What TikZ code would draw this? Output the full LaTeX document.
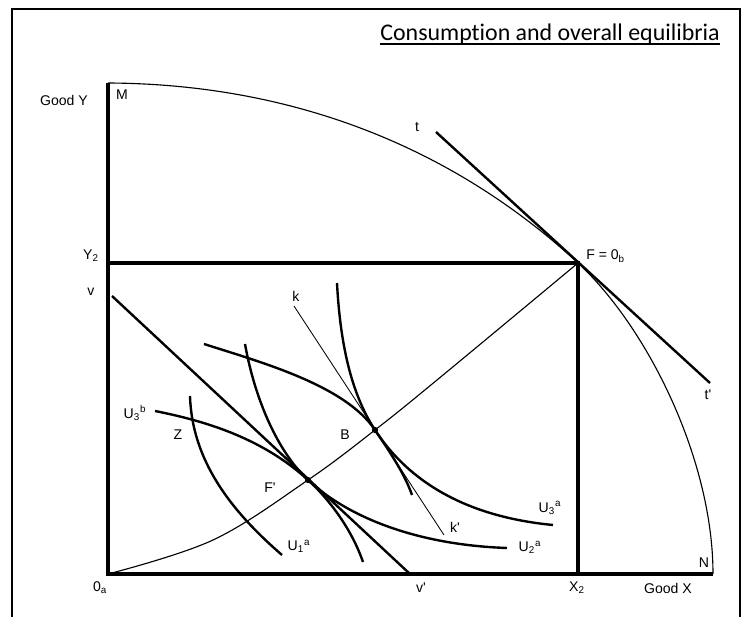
\documentclass[tikz,border=0pt]{standalone}
\usepackage{fontspec}
\setmainfont{Liberation Sans}
\newfontfamily\titlefont[Ligatures=NoCommon]{Carlito}
\newcommand{\pr}{\textquotesingle}

\tikzset{
  axis/.style={line width=2.3pt},
  icurve/.style={line width=1.7pt},
  thinline/.style={line width=0.8pt},
  lbl/.style={inner sep=0pt, font=\fontsize{10}{12}\selectfont},
}

\begin{document}
\begin{tikzpicture}[x=0.025cm, y=-0.025cm]
\useasboundingbox (0,0) rectangle (745,617);

% frame, open at the bottom
\draw[line width=1.4pt] (12,617) -- (12,9) -- (740,9) -- (740,617);

\node[inner sep=0pt, anchor=base east, font=\titlefont\fontsize{17}{20}\selectfont]
    (title) at (720,41) {Consumption and overall equilibria};
\draw[line width=1.4pt] ([yshift=-2.2pt]title.base west) -- ([yshift=-2.2pt]title.base east);

% main points
\coordinate (Oa) at (108,574);
\coordinate (M)  at (108,83);
\coordinate (N)  at (713,574);
\coordinate (F)  at (578,263);
\coordinate (Y2) at (108,263);
\coordinate (X2) at (578,574);
\coordinate (v)  at (112,296);
\coordinate (vp) at (410,574);
\coordinate (t)  at (436,132);
\coordinate (tp) at (710,383);
\coordinate (k)  at (294,306);
\coordinate (kp) at (444,535);
\coordinate (B)  at (375,430);
\coordinate (Fp) at (308,480);

% box of the economy
\draw[axis] (M) -- (Oa) -- (N);
\draw[axis] (Y2) -- (F) -- (X2);

% production frontier MN
\draw[thinline] (M) .. controls (300,84) and (458,152) .. (F)
                    .. controls (648,328) and (713,460) .. (N);

% contract curve
\draw[thinline] plot[smooth, tension=0.6] coordinates {(Oa) (213,540) (Fp) (B) (437,380) (F)};

% price lines
\draw[icurve] (t) -- (tp);
\draw[icurve] (v) -- (vp);
\draw[line width=0.6pt] (k) -- (kp);

% indifference curves
\draw[icurve] (337,283) .. controls (340,340) and (350,392) .. (B)
              .. controls (415,491) and (480,518) .. (553,525);
\draw[icurve] (204,344) .. controls (260,362) and (345,385) .. (B)
              .. controls (392,455) and (405,475) .. (412,495);
\draw[icurve] (245,344) .. controls (255,400) and (278,452) .. (Fp)
              .. controls (350,519) and (420,545) .. (507,548);
\draw[icurve] (155,411) .. controls (200,420) and (260,436) .. (Fp)
              .. controls (330,500) and (352,530) .. (363,562);
\draw[icurve] (190,396) .. controls (192,460) and (230,510) .. (282,555);

\fill (B)  circle [radius=2.2pt];
\fill (Fp) circle [radius=2.2pt];

% labels
\node[lbl] (lGoodY) at (64,100)  {Good Y};
\node[lbl] (lM)     at (122,95)  {M};
\node[lbl] (lY2)    at (91,256)  {Y\textsubscript{2}};
\node[lbl] (lv)     at (91,292)  {v};
\node[lbl] (lk)     at (296,296) {k};
\node[lbl] (lt)     at (417,127) {t};
\node[lbl, anchor=west] (lF) at (586,256) {F = 0\textsubscript{b}};
\node[lbl] (ltp)    at (708,395) {t\pr};
\node[lbl] (lU3b)   at (135,413) {U\textsubscript{3}\textsuperscript{b}};
\node[lbl] (lZ)     at (178,435) {Z};
\node[lbl] (lB)     at (345,435) {B};
\node[lbl] (lFp)    at (270,488) {F\pr};
\node[lbl] (lU1a)   at (299,546) {U\textsubscript{1}\textsuperscript{a}};
\node[lbl] (lkp)    at (455,527) {k\pr};
\node[lbl] (lU3a)   at (550,508) {U\textsubscript{3}\textsuperscript{a}};
\node[lbl] (lU2a)   at (530,547) {U\textsubscript{2}\textsuperscript{a}};
\node[lbl] (lN)     at (704,563) {N};
\node[lbl] (lOa)    at (100,588) {0\textsubscript{a}};
\node[lbl] (lvp)    at (421,588) {v\pr};
\node[lbl] (lX2)    at (577,588) {X\textsubscript{2}};
\node[lbl] (lGoodX) at (668,588) {Good X};
\end{tikzpicture}
\end{document}
